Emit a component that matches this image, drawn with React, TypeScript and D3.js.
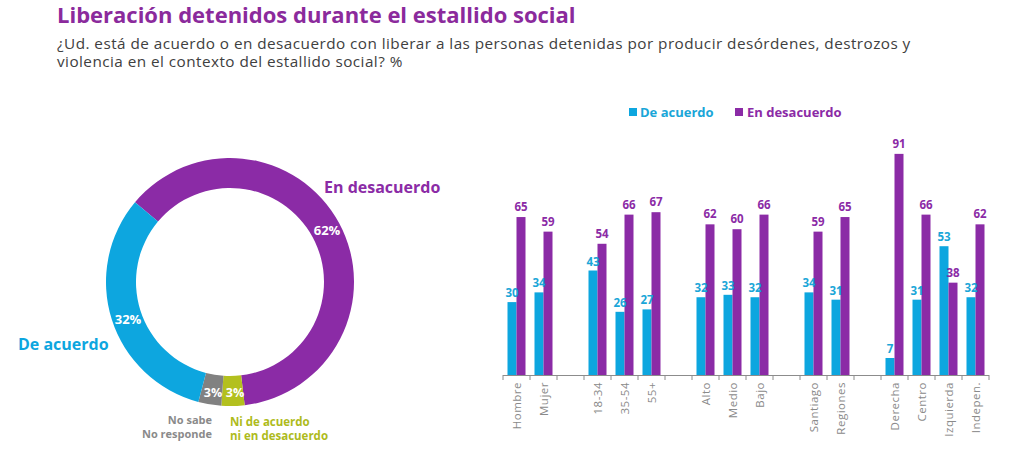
import React from "react";
import * as d3 from "d3";

const TITLE = "Liberación detenidos durante el estallido social";
const SUBTITLE = [
  "¿Ud. está de acuerdo o en desacuerdo con liberar a las personas detenidas por producir desórdenes, destrozos y",
  "violencia en el contexto del estallido social? %",
];

// Donut data (clockwise from start angle)
const donutLabels = ["En desacuerdo", "Ni de acuerdo ni en desacuerdo", "No sabe No responde", "De acuerdo"];
const donutValues = [62, 3, 3, 32];
const donutColors = ["#8B2BA6", "#B3C01E", "#818181", "#0DA6DF"];

// Bar chart data; "" marks a gap between groups
const categories = [
  "Hombre", "Mujer", "",
  "18-34", "35-54", "55+", "",
  "Alto", "Medio", "Bajo", "",
  "Santiago", "Regiones", "",
  "Derecha", "Centro", "Izquierda", "Indepen.",
];
const deAcuerdo = [30, 34, null, 43, 26, 27, null, 32, 33, 32, null, 34, 31, null, 7, 31, 53, 32];
const enDesacuerdo = [65, 59, null, 54, 66, 67, null, 62, 60, 66, null, 59, 65, null, 91, 66, 38, 62];
const seriesNames = ["De acuerdo", "En desacuerdo"];

const BLUE = "#0DA6DF";
const BLUE_TXT = "#1AA6D8";
const PURPLE = "#8B2BA6";
const LABEL_FONT = "'Open Sans', sans-serif";

export default function App() {
  const W = 1023, H = 469;
  // donut
  const cx = 230, cy = 282, rOuter = 124, rInner = 94;
  const startAngle = (-50 * Math.PI) / 180;
  const pie = d3.pie<number>().sort(null).value((d) => d).startAngle(startAngle).endAngle(startAngle + 2 * Math.PI);
  const arcs = pie(donutValues);
  const arcGen = d3.arc<d3.PieArcDatum<number>>().innerRadius(rInner).outerRadius(rOuter);

  // bars
  const keys = categories.map((c, i) => (c === "" ? `gap${i}` : c));
  const x = d3.scaleBand<string>().domain(keys).range([503, 989]).paddingInner(0).paddingOuter(0);
  const y = d3.scaleLinear().domain([0, 100]).range([375, 132]);
  const bw = 9;
  const ticks = keys.map((k) => x(k)!).concat([x.range()[1]]);

  return (
    <svg width={W} height={H} style={{ position: "absolute", left: 0, top: 0, background: "#fff" }}>
      <text x={57} y={23} fontFamily={LABEL_FONT} fontWeight={700} fontSize={22} fill="#8B2A9C">{TITLE}</text>
      {SUBTITLE.map((s, i) => (
        <text key={i} x={57} y={49 + i * 18} fontFamily={LABEL_FONT} fontSize={15.3} letterSpacing={0.45} fill="#404040">{s}</text>
      ))}

      {/* Donut */}
      <g transform={`translate(${cx},${cy})`}>
        {arcs.map((a, i) => (
          <path key={i} d={arcGen(a)!} fill={donutColors[i]} />
        ))}
        {arcs.map((a, i) => {
          const [px, py] = arcGen.centroid(a);
          let tx = px, ty = py;
          if (i === 0) { tx = 97; ty = -52; }
          if (i === 3) { tx = -102; ty = 37; }
          if (i === 1) { tx = 5; ty = 110; }
          if (i === 2) { tx = -17; ty = 110; }
          return (
            <text key={i} x={tx} y={ty} textAnchor="middle" dominantBaseline="central" fontFamily={LABEL_FONT}
              fontWeight={700} fontSize={i === 1 || i === 2 ? 12.5 : 13} fill="#fff">{donutValues[i]}%</text>
          );
        })}
      </g>
      <text x={324} y={193} fontFamily={LABEL_FONT} fontWeight={700} fontSize={16} fill={PURPLE}>{donutLabels[0]}</text>
      <text x={18} y={350} fontFamily={LABEL_FONT} fontWeight={700} fontSize={16} fill={BLUE}>{donutLabels[3]}</text>
      <text x={212} y={424} textAnchor="end" fontFamily={LABEL_FONT} fontWeight={700} fontSize={11} fill="#8a8a8a">No sabe</text>
      <text x={212} y={438} textAnchor="end" fontFamily={LABEL_FONT} fontWeight={700} fontSize={11} fill="#8a8a8a">No responde</text>
      <text x={230} y={426} fontFamily={LABEL_FONT} fontWeight={700} fontSize={11.5} fill="#AEBB1C">Ni de acuerdo</text>
      <text x={230} y={440} fontFamily={LABEL_FONT} fontWeight={700} fontSize={11.5} fill="#AEBB1C">ni en desacuerdo</text>

      {/* Legend */}
      <g fontFamily={LABEL_FONT} fontWeight={700} fontSize={13}>
        <rect x={629} y={108} width={8} height={8} fill={BLUE} />
        <text x={640} y={117} fill={BLUE_TXT}>{seriesNames[0]}</text>
        <rect x={735} y={108} width={8} height={8} fill={PURPLE} />
        <text x={747} y={117} fill={PURPLE}>{seriesNames[1]}</text>
      </g>

      {/* Bars */}
      {keys.map((k, i) => {
        const c = x(k)! + x.bandwidth() / 2;
        const a = deAcuerdo[i];
        const b = enDesacuerdo[i];
        if (a == null || b == null) return null;
        return (
          <g key={k}>
            <rect x={c - bw} y={y(a)} width={bw} height={y(0) - y(a)} fill={BLUE} />
            <rect x={c} y={y(b)} width={bw} height={y(0) - y(b)} fill={PURPLE} />
          </g>
        );
      })}
      {keys.map((k, i) => {
        const c = x(k)! + x.bandwidth() / 2;
        const a = deAcuerdo[i];
        const b = enDesacuerdo[i];
        if (a == null || b == null) return null;
        return (
          <g key={k + "l"} fontFamily={LABEL_FONT} fontWeight={700} fontSize={11.5} textAnchor="middle">
            <text x={c - bw / 2} y={y(a) - 5} fill={BLUE_TXT}>{a}</text>
            <text x={c + bw / 2} y={y(b) - 6} fill={PURPLE}>{b}</text>
          </g>
        );
      })}

      {/* Axis */}
      <line x1={503} x2={989} y1={375.5} y2={375.5} stroke="#8c8c8c" strokeWidth={1} />
      {ticks.map((t, i) => (
        <line key={i} x1={t} x2={t} y1={375} y2={380} stroke="#8c8c8c" strokeWidth={1} />
      ))}
      {keys.map((k, i) => {
        if (categories[i] === "") return null;
        const c = x(k)! + x.bandwidth() / 2;
        return (
          <text key={k + "t"} transform={`translate(${c + 4},${382}) rotate(-90)`} textAnchor="end"
            fontFamily={LABEL_FONT} fontSize={11.5} fill="#8a8a8a" letterSpacing={0.5}>{categories[i]}</text>
        );
      })}
    </svg>
  );
}
